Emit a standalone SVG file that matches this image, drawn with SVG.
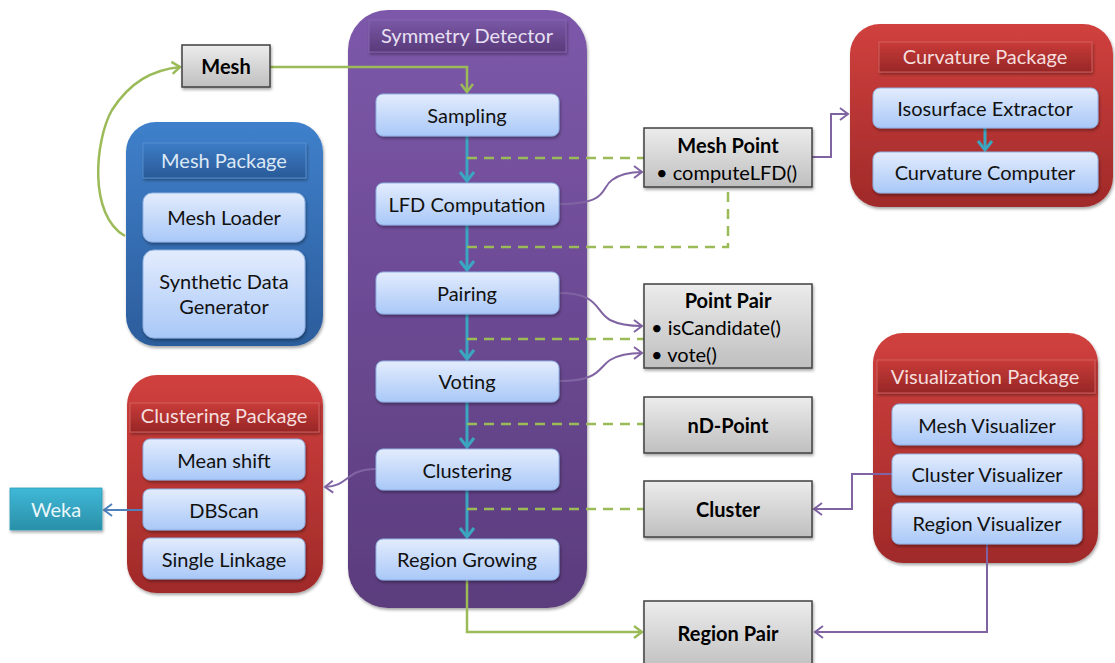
<svg xmlns="http://www.w3.org/2000/svg" width="1115" height="663" viewBox="0 0 1115 663">
  <style>
    text { font-family: "Lato", "Open Sans", "Liberation Sans", sans-serif; font-size: 20px; text-anchor: middle; dominant-baseline: central; }
    .item { fill: url(#gItem); stroke: #8fb1e3; stroke-width: 1; filter: url(#shadow); }
    .itemText { fill: #111; }
    .cls { fill: url(#gGray); stroke: #404040; stroke-width: 1.5; filter: url(#shadow); }
    .clsTitle { font-weight: bold; fill: #000; }
    .clsText { fill: #000; text-anchor: start; }
    .title { font-size: 20px; }
    .flow { fill: none; stroke: #3ba6c0; stroke-width: 3; marker-end: url(#aTeal); }
    .greenArrow { fill: none; stroke: #9bbb59; stroke-width: 2.5; marker-end: url(#aGreen); }
    .dash { fill: none; stroke: #9bbb59; stroke-width: 2.5; stroke-dasharray: 10 7; }
    .purple { fill: none; stroke: #8064a2; stroke-width: 2; marker-end: url(#aPurple); }
    .blue { fill: none; stroke: #4f81bd; stroke-width: 2; marker-end: url(#aBlue); }
  </style>
  <defs>
    <filter id="shadow" x="-10%" y="-10%" width="130%" height="140%">
      <feDropShadow dx="1" dy="2" stdDeviation="1.5" flood-color="#000" flood-opacity="0.35"/>
    </filter>
    <linearGradient id="gItem" x1="0" y1="0" x2="0" y2="1">
      <stop offset="0" stop-color="#e3ecfd"/>
      <stop offset="1" stop-color="#a9c8f8"/>
    </linearGradient>
    <linearGradient id="gGray" x1="0" y1="0" x2="0" y2="1">
      <stop offset="0" stop-color="#ececec"/>
      <stop offset="1" stop-color="#bfbfbf"/>
    </linearGradient>
    <linearGradient id="gPurple" x1="0" y1="0" x2="0" y2="1">
      <stop offset="0" stop-color="#7d58aa"/>
      <stop offset="1" stop-color="#5b3c7d"/>
    </linearGradient>
    <linearGradient id="gPurpleTitle" x1="0" y1="0" x2="0" y2="1">
      <stop offset="0" stop-color="#7a58a6"/>
      <stop offset="1" stop-color="#593a7a"/>
    </linearGradient>
    <linearGradient id="gRed" x1="0" y1="0" x2="0" y2="1">
      <stop offset="0" stop-color="#d0403e"/>
      <stop offset="1" stop-color="#a02a29"/>
    </linearGradient>
    <linearGradient id="gRedTitle" x1="0" y1="0" x2="0" y2="1">
      <stop offset="0" stop-color="#c93b39"/>
      <stop offset="1" stop-color="#972726"/>
    </linearGradient>
    <linearGradient id="gBlue" x1="0" y1="0" x2="0" y2="1">
      <stop offset="0" stop-color="#3f80cb"/>
      <stop offset="1" stop-color="#2c5d9c"/>
    </linearGradient>
    <linearGradient id="gBlueTitle" x1="0" y1="0" x2="0" y2="1">
      <stop offset="0" stop-color="#3c7cc6"/>
      <stop offset="1" stop-color="#2a5a98"/>
    </linearGradient>
    <linearGradient id="gTeal" x1="0" y1="0" x2="0" y2="1">
      <stop offset="0" stop-color="#3fb9d8"/>
      <stop offset="1" stop-color="#2a8fa8"/>
    </linearGradient>
    <marker id="aTeal" viewBox="-12 -10 14 20" refX="0" refY="0" markerWidth="14" markerHeight="20" markerUnits="userSpaceOnUse" orient="auto">
      <polyline points="-9,-7 0,0 -9,7" fill="none" stroke="#3ba6c0" stroke-width="3"/>
    </marker>
    <marker id="aGreen" viewBox="-12 -10 14 20" refX="0" refY="0" markerWidth="14" markerHeight="20" markerUnits="userSpaceOnUse" orient="auto">
      <polyline points="-8,-6 0,0 -8,6" fill="none" stroke="#9bbb59" stroke-width="2.5"/>
    </marker>
    <marker id="aPurple" viewBox="-12 -10 14 20" refX="0" refY="0" markerWidth="14" markerHeight="20" markerUnits="userSpaceOnUse" orient="auto">
      <polyline points="-8,-6 0,0 -8,6" fill="none" stroke="#8064a2" stroke-width="2"/>
    </marker>
    <marker id="aBlue" viewBox="-12 -10 14 20" refX="0" refY="0" markerWidth="14" markerHeight="20" markerUnits="userSpaceOnUse" orient="auto">
      <polyline points="-8,-6 0,0 -8,6" fill="none" stroke="#4f81bd" stroke-width="2"/>
    </marker>
  </defs>

  <rect width="1115" height="663" fill="#ffffff"/>

  <!-- Symmetry Detector pipeline -->
  <g id="symmetry-detector">
    <rect x="348" y="10" width="239" height="598" rx="40" fill="url(#gPurple)" filter="url(#shadow)"/>
    <rect x="369" y="20" width="197" height="32" fill="url(#gPurpleTitle)" stroke="#8a6ab3" stroke-width="0.8" filter="url(#shadow)"/>
    <text x="467" y="35" class="title" fill="#e8e0f3">Symmetry Detector</text>
  </g>

  <!-- Mesh Package -->
  <g id="mesh-package">
    <rect x="126" y="122" width="197" height="224" rx="30" fill="url(#gBlue)" filter="url(#shadow)"/>
    <rect x="143" y="143" width="163" height="35" fill="url(#gBlueTitle)" stroke="#5a93d4" stroke-width="0.8" filter="url(#shadow)"/>
    <text x="224" y="160" class="title" fill="#dde8f5">Mesh Package</text>
  </g>

  <!-- Curvature Package -->
  <g id="curvature-package">
    <rect x="850" y="24" width="263" height="183" rx="30" fill="url(#gRed)" filter="url(#shadow)"/>
    <rect x="879" y="42" width="213" height="30" fill="url(#gRedTitle)" stroke="#d86a68" stroke-width="0.8" filter="url(#shadow)"/>
    <text x="985" y="56" class="title" fill="#f5dede">Curvature Package</text>
  </g>

  <!-- Clustering Package -->
  <g id="clustering-package">
    <rect x="127" y="375" width="196" height="218" rx="30" fill="url(#gRed)" filter="url(#shadow)"/>
    <rect x="130" y="403" width="189" height="29" fill="url(#gRedTitle)" stroke="#d86a68" stroke-width="0.8" filter="url(#shadow)"/>
    <text x="224" y="415" class="title" fill="#f5dede">Clustering Package</text>
  </g>

  <!-- Visualization Package -->
  <g id="visualization-package">
    <rect x="873" y="333" width="225" height="230" rx="30" fill="url(#gRed)" filter="url(#shadow)"/>
    <rect x="877" y="360" width="218" height="33" fill="url(#gRedTitle)" stroke="#d86a68" stroke-width="0.8" filter="url(#shadow)"/>
    <text x="985" y="376" class="title" fill="#f5dede">Visualization Package</text>
  </g>

  <!-- Connectors -->
  <g id="connectors">
    <!-- pipeline flow -->
    <path class="flow" d="M467 136 V181"/>
    <path class="flow" d="M467 225 V270"/>
    <path class="flow" d="M467 314 V359"/>
    <path class="flow" d="M467 402 V447"/>
    <path class="flow" d="M467 490 V537"/>
    <path class="flow" d="M985 128 V150"/>

    <!-- data class associations -->
    <path class="dash" d="M467 158 H644"/>
    <path class="dash" d="M467 247 H728 V188"/>
    <path class="dash" d="M467 339 H644"/>
    <path class="dash" d="M467 424 H644"/>
    <path class="dash" d="M467 509 H644"/>

    <!-- mesh input -->
    <path class="greenArrow" d="M125 236 C 88 215, 95 140, 112 110 C 130 82, 152 70, 180 67"/>
    <path class="greenArrow" d="M270 67 H467 V92"/>
    <path class="greenArrow" d="M467 580 V632 H642"/>

    <!-- method calls -->
    <path class="purple" d="M559 204 C 610 204, 600 188, 612 180 C 620 174, 630 172, 642 172"/>
    <path class="purple" d="M559 293 C 600 293, 595 312, 610 320 C 620 325, 630 326, 642 326"/>
    <path class="purple" d="M559 381 C 600 381, 598 368, 610 360 C 620 354, 630 353, 642 353"/>
    <path class="purple" d="M812 157 H831 V114 H848"/>
    <path class="purple" d="M376 469 C 345 469, 350 486, 325 487"/>
    <path class="purple" d="M892 474 H852 V509 H814"/>
    <path class="purple" d="M987 544 V632 H815"/>
    <path class="blue" d="M143 510 H104"/>
  </g>

  <!-- Pipeline stages -->
  <g id="sampling">
    <rect class="item" x="376" y="94" width="183" height="42" rx="7"/>
    <text class="itemText" x="467" y="115">Sampling</text>
  </g>
  <g id="lfd-computation">
    <rect class="item" x="376" y="183" width="183" height="42" rx="7"/>
    <text class="itemText" x="467" y="204">LFD Computation</text>
  </g>
  <g id="pairing">
    <rect class="item" x="376" y="272" width="183" height="42" rx="7"/>
    <text class="itemText" x="467" y="293">Pairing</text>
  </g>
  <g id="voting">
    <rect class="item" x="376" y="361" width="183" height="41" rx="7"/>
    <text class="itemText" x="467" y="381">Voting</text>
  </g>
  <g id="clustering">
    <rect class="item" x="376" y="449" width="183" height="41" rx="7"/>
    <text class="itemText" x="467" y="470">Clustering</text>
  </g>
  <g id="region-growing">
    <rect class="item" x="376" y="539" width="183" height="41" rx="7"/>
    <text class="itemText" x="467" y="559">Region Growing</text>
  </g>

  <!-- Mesh package items -->
  <g id="mesh-loader">
    <rect class="item" x="143" y="193" width="162" height="49" rx="9"/>
    <text class="itemText" x="224" y="217">Mesh Loader</text>
  </g>
  <g id="synthetic-data-generator">
    <rect class="item" x="143" y="250" width="162" height="88" rx="11"/>
    <text class="itemText" x="224" y="281">Synthetic Data</text>
    <text class="itemText" x="224" y="306">Generator</text>
  </g>

  <!-- Curvature package items -->
  <g id="isosurface-extractor">
    <rect class="item" x="873" y="88" width="225" height="40" rx="7"/>
    <text class="itemText" x="985" y="108">Isosurface Extractor</text>
  </g>
  <g id="curvature-computer">
    <rect class="item" x="873" y="152" width="225" height="41" rx="7"/>
    <text class="itemText" x="985" y="172">Curvature Computer</text>
  </g>

  <!-- Clustering package items -->
  <g id="mean-shift">
    <rect class="item" x="143" y="439" width="162" height="41" rx="7"/>
    <text class="itemText" x="224" y="460">Mean shift</text>
  </g>
  <g id="dbscan">
    <rect class="item" x="143" y="489" width="162" height="41" rx="7"/>
    <text class="itemText" x="224" y="510">DBScan</text>
  </g>
  <g id="single-linkage">
    <rect class="item" x="143" y="538" width="162" height="41" rx="7"/>
    <text class="itemText" x="224" y="559">Single Linkage</text>
  </g>

  <!-- Visualization package items -->
  <g id="mesh-visualizer">
    <rect class="item" x="892" y="404" width="190" height="41" rx="7"/>
    <text class="itemText" x="987" y="425">Mesh Visualizer</text>
  </g>
  <g id="cluster-visualizer">
    <rect class="item" x="892" y="454" width="190" height="41" rx="7"/>
    <text class="itemText" x="987" y="474">Cluster Visualizer</text>
  </g>
  <g id="region-visualizer">
    <rect class="item" x="892" y="503" width="190" height="41" rx="7"/>
    <text class="itemText" x="987" y="523">Region Visualizer</text>
  </g>

  <!-- External library -->
  <g id="weka">
    <rect x="10" y="488" width="92" height="42" fill="url(#gTeal)" stroke="#2f9cb8" stroke-width="0.8" filter="url(#shadow)"/>
    <text x="56" y="509" fill="#eaf7fb">Weka</text>
  </g>

  <!-- Data classes -->
  <g id="mesh">
    <rect class="cls" x="182" y="45" width="88" height="42"/>
    <text class="clsTitle" x="226" y="66">Mesh</text>
  </g>
  <g id="mesh-point">
    <rect class="cls" x="644" y="128" width="168" height="59"/>
    <text class="clsTitle" x="728" y="145">Mesh Point</text>
    <text class="clsText" x="656" y="172">• computeLFD()</text>
  </g>
  <g id="point-pair">
    <rect class="cls" x="644" y="284" width="168" height="84"/>
    <text class="clsTitle" x="728" y="300">Point Pair</text>
    <text class="clsText" x="651" y="327">• isCandidate()</text>
    <text class="clsText" x="651" y="354">• vote()</text>
  </g>
  <g id="nd-point">
    <rect class="cls" x="644" y="397" width="168" height="56"/>
    <text class="clsTitle" x="728" y="425">nD-Point</text>
  </g>
  <g id="cluster">
    <rect class="cls" x="644" y="481" width="168" height="56"/>
    <text class="clsTitle" x="728" y="509">Cluster</text>
  </g>
  <g id="region-pair">
    <rect class="cls" x="644" y="601" width="168" height="70"/>
    <text class="clsTitle" x="728" y="633">Region Pair</text>
  </g>
</svg>
